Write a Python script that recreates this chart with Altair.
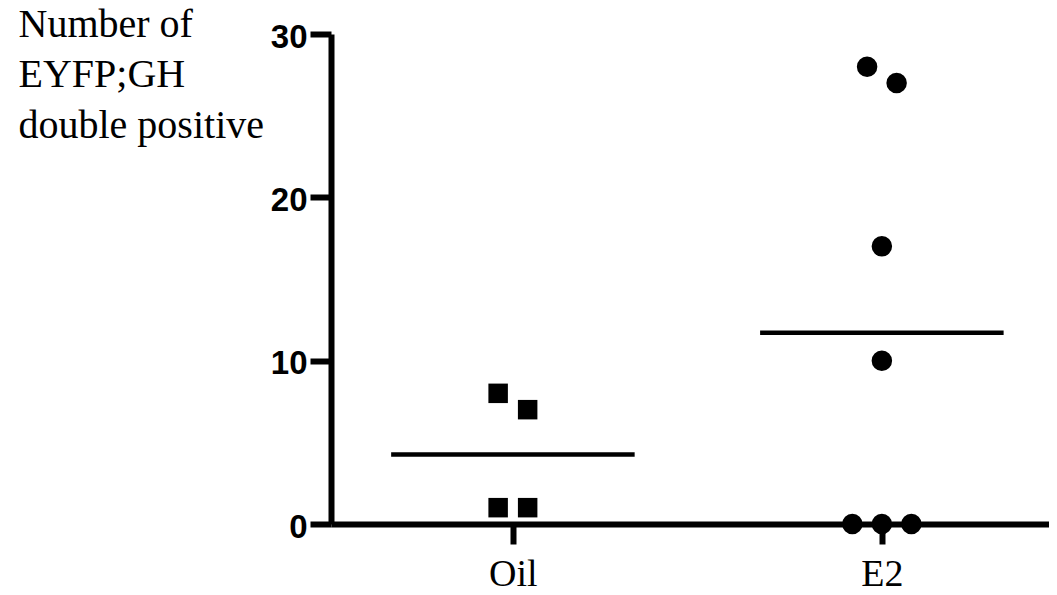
import altair as alt
import pandas as pd

# ---- data ----
groups = ["Oil", "E2"]
oil_values = [8, 7, 1, 1]
e2_values = [28, 27, 17, 10, 0, 0, 0]
y_ticks = [0, 10, 20, 30]
title_lines = ["Number of", "EYFP;GH", "double positive"]

STEP = 0.08      # horizontal spread between overlapping points (group units)
OVERLAP = 1.25   # values closer than this overlap at the marker size
HALF = 0.33      # half width of the mean line (group units)


def spread(values):
    order = sorted(range(len(values)), key=lambda i: -values[i])
    clusters = []
    for i in order:
        if clusters and abs(values[clusters[-1][-1]] - values[i]) < OVERLAP:
            clusters[-1].append(i)
        else:
            clusters.append([i])
    offs = [0.0] * len(values)
    for c in clusters:
        n = len(c)
        for k, i in enumerate(c):
            offs[i] = (k - (n - 1) / 2) * STEP
    return offs


rows = []
for gi, (g, vals) in enumerate(zip(groups, [oil_values, e2_values]), start=1):
    for v, o in zip(vals, spread(vals)):
        rows.append({"group": g, "pos": gi, "value": v, "xpos": gi + o})
df = pd.DataFrame(rows)

label_expr = "datum.value == 1 ? 'Oil' : datum.value == 2 ? 'E2' : ''"

x_scale = alt.Scale(domain=[0.507, 2.453], nice=False, zero=False)
y_scale = alt.Scale(domain=[0, 30], nice=False)

x_axis = alt.Axis(
    values=[1, 2], labelExpr=label_expr, title=None, grid=False,
    domainColor="black", domainWidth=6, tickColor="black", tickWidth=6,
    tickSize=20, labelFont="Liberation Serif", labelFontSize=38,
    labelColor="black", labelPadding=11, labelFontWeight="normal",
)
y_axis = alt.Axis(
    values=y_ticks, grid=False, title=title_lines, titleAngle=0,
    titleX=-313, titleY=2, titleAlign="left", titleBaseline="alphabetic",
    titleFont="Liberation Serif", titleFontSize=40, titleFontWeight="normal",
    titleColor="black", titleLineHeight=50.5,
    domainColor="black", domainWidth=6, tickColor="black", tickWidth=6,
    tickSize=21, labelFont="Liberation Sans", labelFontSize=33,
    labelFontWeight="bold", labelColor="black", labelPadding=3, labelOffset=3,
)

base = alt.Chart(df)

squares = base.transform_filter(alt.datum.group == "Oil").mark_point(
    shape="square", filled=True, color="black", opacity=1, size=380
).encode(
    x=alt.X("xpos:Q", scale=x_scale, axis=x_axis),
    y=alt.Y("value:Q", scale=y_scale, axis=y_axis),
)

circles = base.transform_filter(alt.datum.group == "E2").mark_point(
    shape="circle", filled=True, color="black", opacity=1, size=420
).encode(
    x=alt.X("xpos:Q", scale=x_scale),
    y=alt.Y("value:Q", scale=y_scale),
)

means = base.transform_aggregate(
    mean_value="mean(value)", groupby=["pos"]
).transform_calculate(
    x1=f"datum.pos - {HALF}", x2=f"datum.pos + {HALF}"
).mark_rule(color="black", strokeWidth=4.5).encode(
    x=alt.X("x1:Q", scale=x_scale),
    x2="x2:Q",
    y=alt.Y("mean_value:Q", scale=y_scale),
)

chart = alt.layer(means, squares, circles).properties(
    width=718, height=490,
    padding={"left": 323, "top": 26, "right": 0, "bottom": 70},
    autosize=alt.AutoSizeParams(type="none"),
    background="white",
).configure_view(strokeOpacity=0)

chart.save("out.html", embed_options={"renderer": "svg", "actions": False})
